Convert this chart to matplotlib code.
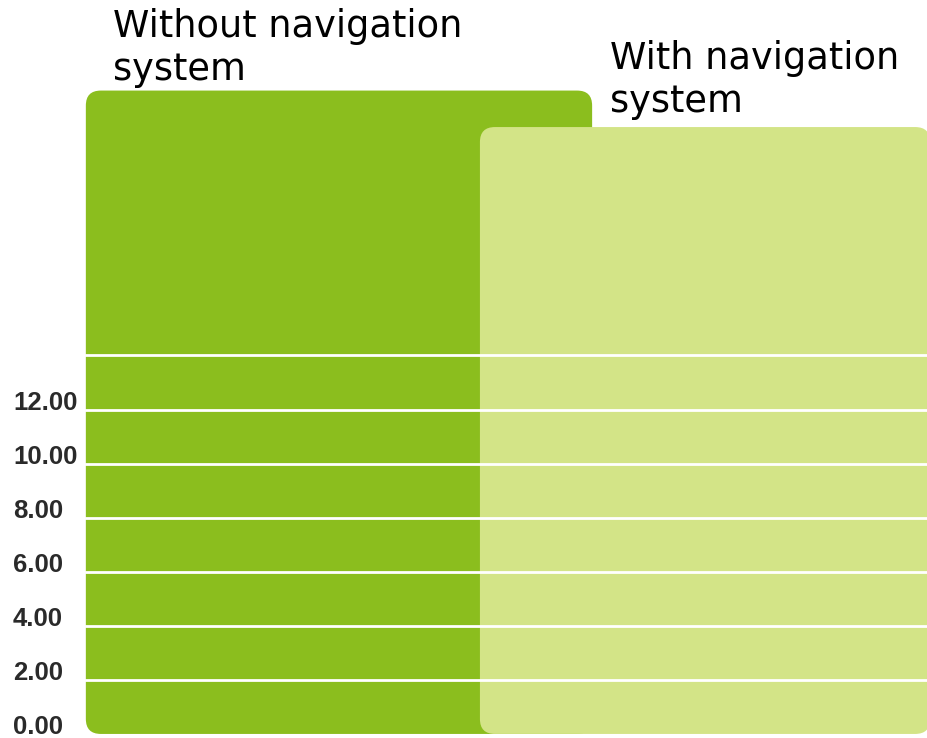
import matplotlib
matplotlib.use("Agg")
import matplotlib.pyplot as plt
from matplotlib.patches import FancyBboxPatch
from matplotlib import transforms

# data
categories = ["Without navigation\nsystem", "With navigation\nsystem"]
values = [23.8, 22.45]
tick_values = [0, 2, 4, 6, 8, 10, 12]
tick_labels = ["0.00", "2.00", "4.00", "6.00", "8.00", "10.00", "12.00"]
grid_values = [2, 4, 6, 8, 10, 12, 14]

colors = ["#8bbe1e", "#d3e487"]

W, H = 928, 738
fig = plt.figure(figsize=(W / 100, H / 100), dpi=100)
ax = fig.add_axes([0, 0, 1, 1])
ax.set_xlim(-0.926, 1.609)
ax.set_ylim(-0.15, 27.15)
ax.axis("off")

bars = ax.bar([0, 1], values, width=[1.383, 1.23], color=colors)

# swap the plain bars for rounded ones
x_per_px = (1.609 + 0.926) / W
y_per_px = (27.15 + 0.15) / H
radius = 15 * x_per_px
aspect = y_per_px / x_per_px
for bar in bars:
    x, y = bar.get_xy()
    w, h = bar.get_width(), bar.get_height()
    fc = bar.get_facecolor()
    bar.remove()
    ax.add_patch(FancyBboxPatch((x, y), w, h,
                                boxstyle=f"round,pad=0,rounding_size={radius}",
                                mutation_aspect=aspect, fc=fc, ec="none"))

left = bars[0].get_x()
xmin = (left - ax.get_xlim()[0]) / (ax.get_xlim()[1] - ax.get_xlim()[0])
for g in grid_values:
    ax.axhline(g, xmin=xmin, xmax=1, color="white", lw=2, zorder=3)

# y labels sit a bit above their lines
trans = transforms.blended_transform_factory(fig.transFigure, ax.transData)
trans = transforms.offset_copy(trans, fig=fig, y=7, units="dots")
for v, lab in zip(tick_values, tick_labels):
    ax.text(13 / W, v, lab, transform=trans, ha="left", va="center",
            fontsize=18.5, family="Liberation Sans", fontweight="bold",
            color="#2a2a2a")

fig.text(113 / W, 1 - 8 / H, categories[0], ha="left", va="top",
         fontsize=26.5, color="black")
fig.text(610 / W, 1 - 40 / H, categories[1], ha="left", va="top",
         fontsize=26.5, color="black")

fig.savefig("out.png", dpi=100, facecolor="white")
